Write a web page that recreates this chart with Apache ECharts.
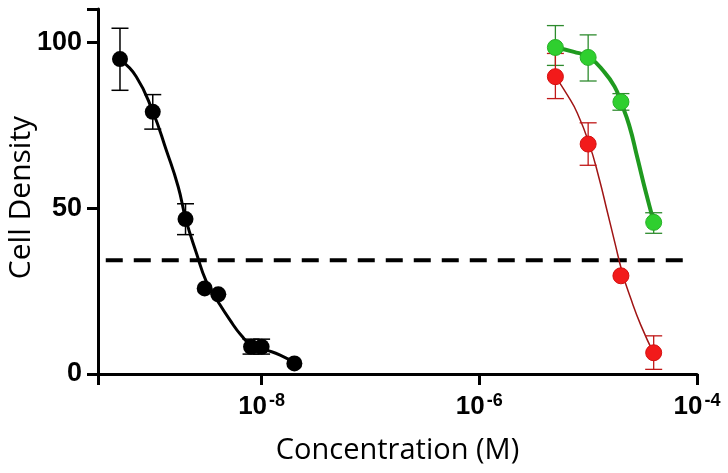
<!DOCTYPE html>
<html><head><meta charset="utf-8">
<script src="https://cdn.jsdelivr.net/npm/echarts@6/dist/echarts.min.js"></script>
<style>html,body{margin:0;padding:0;background:#fff}#c{width:728px;height:473px}</style>
</head><body><div id="c"></div>
<script>
// ---- data ----
const blackConc = [5e-10, 1e-9, 2e-9, 3e-9, 4e-9, 8e-9, 1e-8, 2e-8];
const blackVal = [94.9, 79.0, 46.7, 25.8, 24.0, 8.2, 8.2, 3.2];
const blackErrLow = [85.5, 73.8, 42.0, null, null, 6.0, 6.0, null];
const blackErrHigh = [104.2, 84.2, 51.3, null, null, 10.5, 10.5, null];

const redConc = [5e-6, 1e-5, 2e-5, 4e-5];
const redVal = [89.6, 69.3, 29.6, 6.4];
const redErrLow = [83.0, 62.9, null, 1.4];
const redErrHigh = [96.6, 75.7, null, 11.5];

const greenConc = [5e-6, 1e-5, 2e-5, 4e-5];
const greenVal = [98.4, 95.4, 82.0, 45.7];
const greenErrLow = [93.0, 88.3, 79.5, 42.4];
const greenErrHigh = [105.0, 102.2, 84.5, 48.6];

// fitted curves
const blackCurveConc = [5.04e-10, 7.06e-10, 1.0e-9, 1.33e-9, 1.71e-9, 2.01e-9, 2.52e-9, 3.12e-9, 3.98e-9, 5.11e-9, 6.55e-9, 8.09e-9, 1.11e-8, 1.48e-8, 2.03e-8];
const blackCurveVal = [94.6, 89.6, 79.1, 67.5, 56.5, 46.7, 36.4, 27.7, 21.8, 16.3, 11.5, 8.7, 7.2, 5.7, 3.3];

const greenCurveConc = [5.0e-6, 7.4e-6, 1.02e-5, 1.40e-5, 1.75e-5, 1.99e-5, 2.38e-5, 2.84e-5, 3.38e-5, 4.0e-5];
const greenCurveVal = [98.3, 97.1, 95.4, 91.1, 86.6, 82.1, 75.0, 65.0, 54.9, 45.9];

const redCurveConc = [5.0e-6, 6.43e-6, 7.96e-6, 1.02e-5, 1.26e-5, 1.50e-5, 1.75e-5, 2.07e-5, 2.46e-5, 3.04e-5, 4.0e-5];
const redCurveVal = [89.6, 84.1, 78.6, 69.5, 59.0, 48.9, 39.9, 30.3, 22.8, 14.8, 6.2];

const thresholdConc = [3.7e-10, 7.4e-5];
const thresholdVal = [34.3, 34.3];

const xTickValues = [1e-8, 1e-6, 1e-4];
const yTickValues = [0, 50, 100];
const xMin = 3.14e-10, xMax = 1e-4;
const yMin = 0, yMax = 110;
const xTitle = 'Concentration (M)';
const yTitle = 'Cell Density';

// ---- helpers ----
const zip = (xs, ys) => xs.map((x, i) => [x, ys[i]]);
const errData = (xs, lo, hi) => xs.map((x, i) => [x, lo[i], hi[i]]).filter(d => d[1] != null);
function errSeries(data, color, width, capW) {
  return {
    type: 'custom', data: data, z: 3, silent: true,
    encode: { x: 0, y: [1, 2] },
    renderItem: function (params, api) {
      const x = api.value(0);
      const p1 = api.coord([x, api.value(1)]);
      const p2 = api.coord([x, api.value(2)]);
      const st = { stroke: color, lineWidth: width };
      return { type: 'group', children: [
        { type: 'line', shape: { x1: p1[0], y1: p1[1], x2: p2[0], y2: p2[1] }, style: st },
        { type: 'line', shape: { x1: p1[0] - capW / 2, y1: p1[1], x2: p1[0] + capW / 2, y2: p1[1] }, style: st },
        { type: 'line', shape: { x1: p2[0] - capW / 2, y1: p2[1], x2: p2[0] + capW / 2, y2: p2[1] }, style: st }
      ]};
    }
  };
}

const chart = echarts.init(document.getElementById('c'), null, { renderer: 'canvas' });
chart.setOption({
  animation: false,
  backgroundColor: '#ffffff',
  grid: { left: 98, right: 31, top: 9, bottom: 99, outerBoundsMode: 'none', containLabel: false },
  xAxis: {
    // base-100 log axis: same log spacing, but native ticks fall on every second decade
    type: 'log', logBase: 100, min: xMin, max: xMax,
    name: xTitle, nameLocation: 'middle', nameGap: 62, nameMoveOverlap: false,
    nameTextStyle: { fontFamily: 'Open Sans', fontSize: 29, color: '#000' },
    axisLine: { lineStyle: { color: '#000', width: 3 } },
    axisTick: { show: true, length: 11, lineStyle: { color: '#000', width: 3 } },
    minorTick: { show: false },
    splitLine: { show: false },
    axisLabel: {
      customValues: xTickValues, margin: 18,
      formatter: function (v) { return '{b|10}{s|' + Math.round(Math.log10(v)) + '}'; },
      rich: {
        b: { fontFamily: 'Liberation Sans', fontWeight: 'bold', fontSize: 26, color: '#000', lineHeight: 30 },
        s: { fontFamily: 'Liberation Sans', fontWeight: 'bold', fontSize: 18, color: '#000', lineHeight: 30, verticalAlign: 'top', padding: [0, 0, 0, 2] }
      }
    }
  },
  yAxis: {
    type: 'value', min: yMin, max: yMax, interval: 50,
    name: yTitle, nameLocation: 'middle', nameGap: 62, nameMoveOverlap: false,
    nameTextStyle: { fontFamily: 'Open Sans', fontSize: 30, color: '#000', padding: [0, 12, 0, 0] },
    axisLine: { show: true, lineStyle: { color: '#000', width: 3 } },
    axisTick: { show: true, length: 11, lineStyle: { color: '#000', width: 3 } },
    splitLine: { show: false },
    axisLabel: { customValues: yTickValues, margin: 16, fontFamily: 'Liberation Sans', fontWeight: 'bold', fontSize: 27, color: '#000' }
  },
  series: [
    { type: 'line', data: zip(thresholdConc, thresholdVal), showSymbol: false, silent: true, z: 1,
      lineStyle: { color: '#000', width: 4, type: [17, 11] } },
    { type: 'line', data: zip(blackCurveConc, blackCurveVal), smooth: true, showSymbol: false, z: 2,
      lineStyle: { color: '#000', width: 3 } },
    { type: 'line', data: zip(greenCurveConc, greenCurveVal), smooth: true, showSymbol: false, z: 2,
      lineStyle: { color: '#1f9a1f', width: 4 } },
    { type: 'line', data: zip(redCurveConc, redCurveVal), smooth: true, showSymbol: false, z: 2,
      lineStyle: { color: '#a01414', width: 1.5 } },
    errSeries(errData(blackConc, blackErrLow, blackErrHigh), '#000', 1.5, 17),
    errSeries(errData(greenConc, greenErrLow, greenErrHigh), '#2e8b2e', 1.3, 17),
    errSeries(errData(redConc, redErrLow, redErrHigh), '#c01818', 1.3, 17),
    { type: 'scatter', data: zip(blackConc, blackVal), symbol: 'circle', symbolSize: 16, z: 4,
      itemStyle: { color: '#000', opacity: 1 } },
    { type: 'scatter', data: zip(greenConc, greenVal), symbol: 'circle', symbolSize: 16, z: 4,
      itemStyle: { color: '#2fcf2f', borderColor: '#26b026', borderWidth: 1, opacity: 1 } },
    { type: 'scatter', data: zip(redConc, redVal), symbol: 'circle', symbolSize: 16, z: 4,
      itemStyle: { color: '#f21a1a', borderColor: '#d41010', borderWidth: 1, opacity: 1 } }
  ]
});
</script>
</body></html>
